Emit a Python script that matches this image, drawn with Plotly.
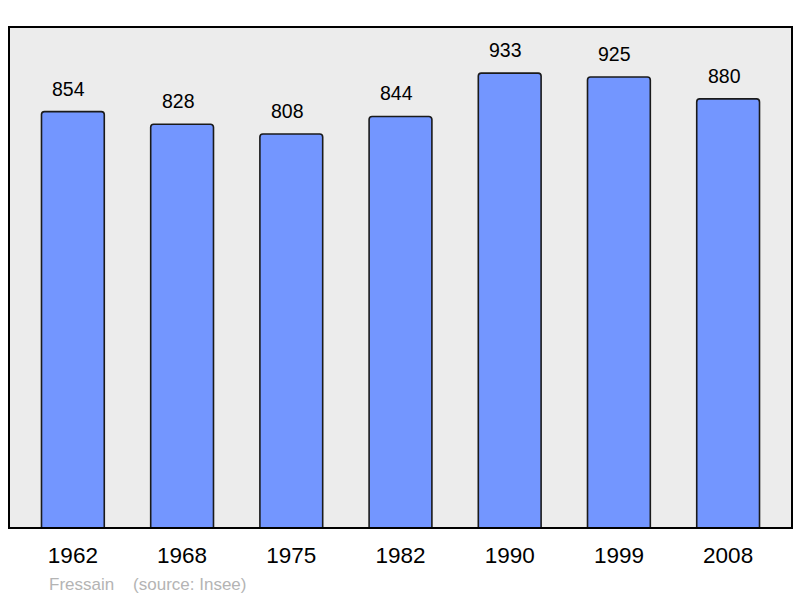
import plotly.graph_objects as go

years = ["1962", "1968", "1975", "1982", "1990", "1999", "2008"]
population = [854, 828, 808, 844, 933, 925, 880]
town = "Fressain"
source = "(source: Insee)"

xs = list(range(len(years)))
FONT = "Liberation Sans, Arial, sans-serif"

fig = go.Figure()
fig.add_trace(go.Bar(
    x=xs, y=population, width=0.575,
    marker=dict(color="#7396ff", line=dict(color="#1a1a1a", width=1.6), cornerradius=3),
    hoverinfo="skip",
))

for x, v in zip(xs, population):
    fig.add_annotation(x=x, y=v, text=str(v), showarrow=False, yanchor="bottom",
                       yshift=10, xshift=-4,
                       font=dict(family=FONT, size=19.5, color="#000000"))

fig.add_annotation(xref="paper", yref="paper", x=0.048, y=0,
                   text=town + "&nbsp;&nbsp;&nbsp;&nbsp;" + source,
                   showarrow=False, xanchor="left", yanchor="middle", yshift=-56,
                   font=dict(family=FONT, size=17, color="#b4b4b4"))

fig.add_shape(type="rect", xref="paper", yref="paper", x0=0, y0=0, x1=1, y1=1,
              line=dict(color="#000000", width=2), fillcolor="rgba(0,0,0,0)", layer="above")

fig.update_layout(
    width=800, height=598,
    margin=dict(l=9, r=8, t=27, b=70),
    paper_bgcolor="#ffffff", plot_bgcolor="#ececec",
    showlegend=False,
    xaxis=dict(range=[-0.585, 6.585], tickvals=xs, ticktext=years, showgrid=False, zeroline=False,
               ticks="", ticklabelstandoff=11,
               tickfont=dict(family=FONT, size=22.5, color="#000000")),
    yaxis=dict(range=[0, 1027.5], showgrid=False, zeroline=False, showticklabels=False, ticks=""),
)

fig.write_html("out.html", config={"displayModeBar": False},
               post_script="document.body.style.margin='0';document.body.style.overflow='hidden';")
